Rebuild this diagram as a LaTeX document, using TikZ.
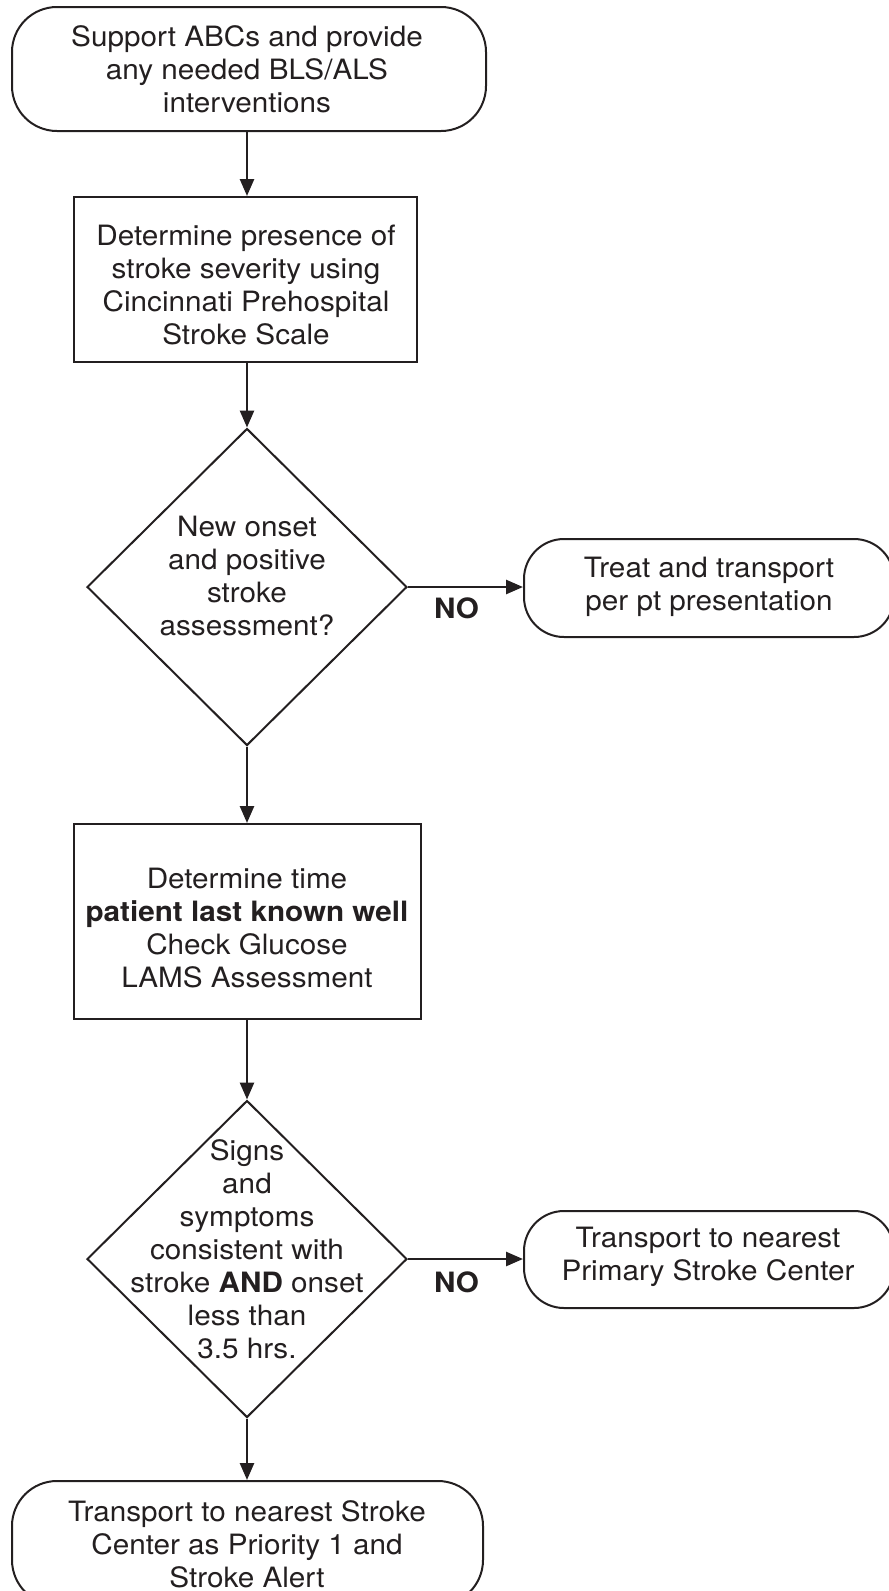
\documentclass[tikz,border=0pt]{standalone}
\usepackage{fontspec}
\setmainfont{TeX Gyre Heros}[FakeStretch=1.06]
\usetikzlibrary{shapes.geometric,arrows.meta}
\definecolor{ink}{HTML}{231F20}
\begin{document}
\begin{tikzpicture}[x=1pt,y=-1pt,
  shapeline/.style={draw=ink, line width=2pt, inner sep=0pt},
  term/.style={shapeline, rectangle, rounded corners=45pt},
  termsmall/.style={shapeline, rectangle, rounded corners=40pt},
  proc/.style={shapeline, rectangle},
  dec/.style={shapeline, diamond, minimum width=320pt, minimum height=317pt},
  txt/.style={inner sep=0pt, align=center, anchor=north, text=ink, font=\fontsize{28}{33}\selectfont},
  boldtxt/.style={txt, font=\fontsize{28}{33}\selectfont\bfseries},
  arr/.style={draw=ink, line width=2.6pt, -{Triangle[length=17pt,width=14pt]}}
]
\clip (0,0) rectangle (889,1591);
\useasboundingbox (0,0) rectangle (889,1591);

% shapes
\node[term, minimum width=474pt, minimum height=124pt] (b1) at (249,69) {};
\node[proc, minimum width=343pt, minimum height=165pt] (b2) at (245.5,279.5) {};
\node[dec] (d1) at (247,587) {};
\node[proc, minimum width=347pt, minimum height=195pt] (b3) at (247.5,921.5) {};
\node[dec] (d2) at (247,1259) {};
\node[term, minimum width=471pt, minimum height=124pt] (b4) at (247.5,1543) {};
\node[termsmall, minimum width=370pt, minimum height=98pt] (r1) at (709,588) {};
\node[termsmall, minimum width=370pt, minimum height=97pt] (r2) at (709,1259.5) {};

% texts
\node[txt] (t1) at (247,25) {Support ABCs and provide\\any needed BLS/ALS\\interventions};
\node[txt] (t2) at (246,225) {Determine presence of\\stroke severity using\\Cincinnati Prehospital\\Stroke Scale};
\node[txt] (t3) at (247,516) {New onset\\and positive\\stroke\\assessment?};
\node[txt] (t4) at (247,868) {Determine time\\\textbf{patient last known well}\\Check Glucose\\LAMS Assessment};
\node[txt] (t5) at (247,1139) {Signs\\and\\symptoms\\consistent with\\stroke \textbf{AND} onset\\less than\\3.5 hrs.};
\node[txt] (t6) at (247,1500) {Transport to nearest Stroke\\Center as Priority 1 and\\Stroke Alert};
\node[txt] (t7) at (709,557) {Treat and transport\\per pt presentation};
\node[txt] (t8) at (708,1227) {Transport to nearest\\Primary Stroke Center};
\node[boldtxt] (n1) at (456.5,598) {NO};
\node[boldtxt] (n2) at (456.5,1272) {NO};

% connectors
\draw[arr] (b1.south -| d1.center) -- (b2.north -| d1.center);
\draw[arr] (b2.south -| d1.center) -- (d1.north);
\draw[arr] (d1.south) -- (b3.north -| d1.center);
\draw[arr] (b3.south -| d1.center) -- (d2.north);
\draw[arr] (d2.south) -- (b4.north -| d2.center);
\draw[arr] (d1.east) -- (r1.west |- d1.east);
\draw[arr] (d2.east) -- (r2.west |- d2.east);
\end{tikzpicture}
\end{document}
